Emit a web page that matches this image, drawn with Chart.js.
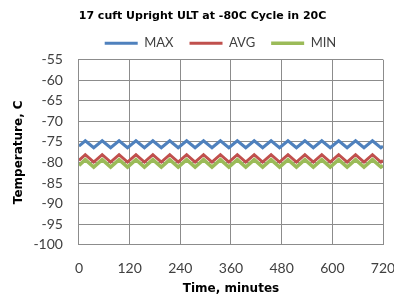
<!DOCTYPE html>
<html>
<head>
<meta charset="utf-8">
<script src="https://cdn.jsdelivr.net/npm/chart.js@4/dist/chart.umd.min.js"></script>
<style>
  html, body { margin: 0; padding: 0; background: #ffffff; }
  #wrap { width: 394px; height: 298px; position: relative; }
</style>
</head>
<body>
<div id="wrap"><canvas id="c" width="394" height="298"></canvas></div>
<script>
// Time in minutes (alternating peaks and troughs of the 40-minute cycles)
const times = [0, 15, 35, 55, 75, 95, 115, 135, 155, 175, 195, 215, 235, 255, 275, 295, 315, 335, 355, 375, 395, 415, 435, 455, 475, 495, 515, 535, 555, 575, 595, 615, 635, 655, 675, 695, 715, 720];
// Temperatures, C
const maxTemp = [-76.0, -74.7, -76.4, -74.7, -76.4, -74.7, -76.4, -74.7, -76.4, -74.7, -76.4, -74.7, -76.4, -74.7, -76.4, -74.7, -76.4, -74.7, -76.4, -74.7, -76.4, -74.7, -76.4, -74.7, -76.4, -74.7, -76.4, -74.7, -76.4, -74.7, -76.4, -74.7, -76.4, -74.7, -76.4, -74.7, -76.4, -76.0];
const avgTemp = [-79.5, -78.1, -79.9, -78.1, -79.9, -78.1, -79.9, -78.1, -79.9, -78.1, -79.9, -78.1, -79.9, -78.1, -79.9, -78.1, -79.9, -78.1, -79.9, -78.1, -79.9, -78.1, -79.9, -78.1, -79.9, -78.1, -79.9, -78.1, -79.9, -78.1, -79.9, -78.1, -79.9, -78.1, -79.9, -78.1, -79.9, -79.5];
const minTemp = [-80.7, -79.3, -81.1, -79.3, -81.1, -79.3, -81.1, -79.3, -81.1, -79.3, -81.1, -79.3, -81.1, -79.3, -81.1, -79.3, -81.1, -79.3, -81.1, -79.3, -81.1, -79.3, -81.1, -79.3, -81.1, -79.3, -81.1, -79.3, -81.1, -79.3, -81.1, -79.3, -81.1, -79.3, -81.1, -79.3, -81.1, -80.7];
const seriesNames = ['MAX', 'AVG', 'MIN'];
const seriesColors = ['#4f81bd', '#c0504d', '#9bbb59'];
const xTicks = [0, 120, 240, 360, 480, 600, 720];
const yTicks = [-55, -60, -65, -70, -75, -80, -85, -90, -95, -100];

const toPts = arr => arr.map((v, i) => ({ x: times[i], y: v }));
const allSeries = [maxTemp, avgTemp, minTemp];

const FONT = 'Lato, "Liberation Sans", sans-serif';
const TFONT = '"DejaVu Sans", sans-serif';

// Nudge title and legend horizontally to match the original's off-centre placement
const shiftPlugin = {
  id: 'shiftBlocks',
  afterLayout(chart) {
    if (chart.titleBlock) { chart.titleBlock.left += 5; chart.titleBlock.right += 5; }
    if (chart.legend) { chart.legend.left += 23; chart.legend.right += 23; }
  }
};

new Chart(document.getElementById('c'), {
  type: 'line',
  data: {
    datasets: allSeries.map((s, i) => ({
      label: seriesNames[i],
      data: toPts(s),
      borderColor: seriesColors[i],
      backgroundColor: seriesColors[i],
      borderWidth: i === 2 ? 3.5 : 3,
      pointRadius: 0,
      pointStyle: 'line',
      tension: 0
    }))
  },
  options: {
    responsive: false,
    animation: false,
    layout: { padding: { left: 12, right: 11, top: 3, bottom: 2 } },
    plugins: {
      title: {
        display: true,
        text: '17 cuft Upright ULT at -80C Cycle in 20C',
        color: '#000000',
        font: { family: TFONT, size: 11, weight: 'bold' },
        padding: { top: 6.5, bottom: -2 }
      },
      legend: {
        display: true,
        labels: {
          usePointStyle: true,
          pointStyleWidth: 33,
          boxHeight: 3,
          padding: 16,
          color: '#404040',
          font: { family: FONT, size: 13 }
        }
      },
      tooltip: { enabled: false }
    },
    scales: {
      x: {
        type: 'linear',
        min: 0,
        max: 720,
        afterBuildTicks: axis => { axis.ticks = xTicks.map(v => ({ value: v })); },
        afterFit: axis => { axis.paddingLeft = 0; axis.paddingRight = 0; },
        ticks: { color: '#404040', font: { family: FONT, size: 14 }, padding: 15, maxRotation: 0, autoSkip: false },
        grid: { color: '#8c8c8c', lineWidth: 1, drawTicks: false },
        border: { color: '#8c8c8c' },
        title: {
          display: true,
          text: 'Time, minutes',
          color: '#000000',
          font: { family: TFONT, size: 12, weight: 'bold' },
          padding: { top: -10, bottom: 0 }
        }
      },
      y: {
        type: 'linear',
        min: -100,
        max: -55,
        afterBuildTicks: axis => { axis.ticks = yTicks.map(v => ({ value: v })); },
        ticks: { color: '#404040', font: { family: FONT, size: 14 }, padding: 16, autoSkip: false },
        grid: { color: '#8c8c8c', lineWidth: 1, drawTicks: false },
        border: { color: '#8c8c8c' },
        title: {
          display: true,
          text: 'Temperature, C',
          color: '#000000',
          font: { family: TFONT, size: 12, weight: 'bold' },
          padding: { top: 0, bottom: -9 }
        }
      }
    }
  },
  plugins: [shiftPlugin]
});
</script>
</body>
</html>
